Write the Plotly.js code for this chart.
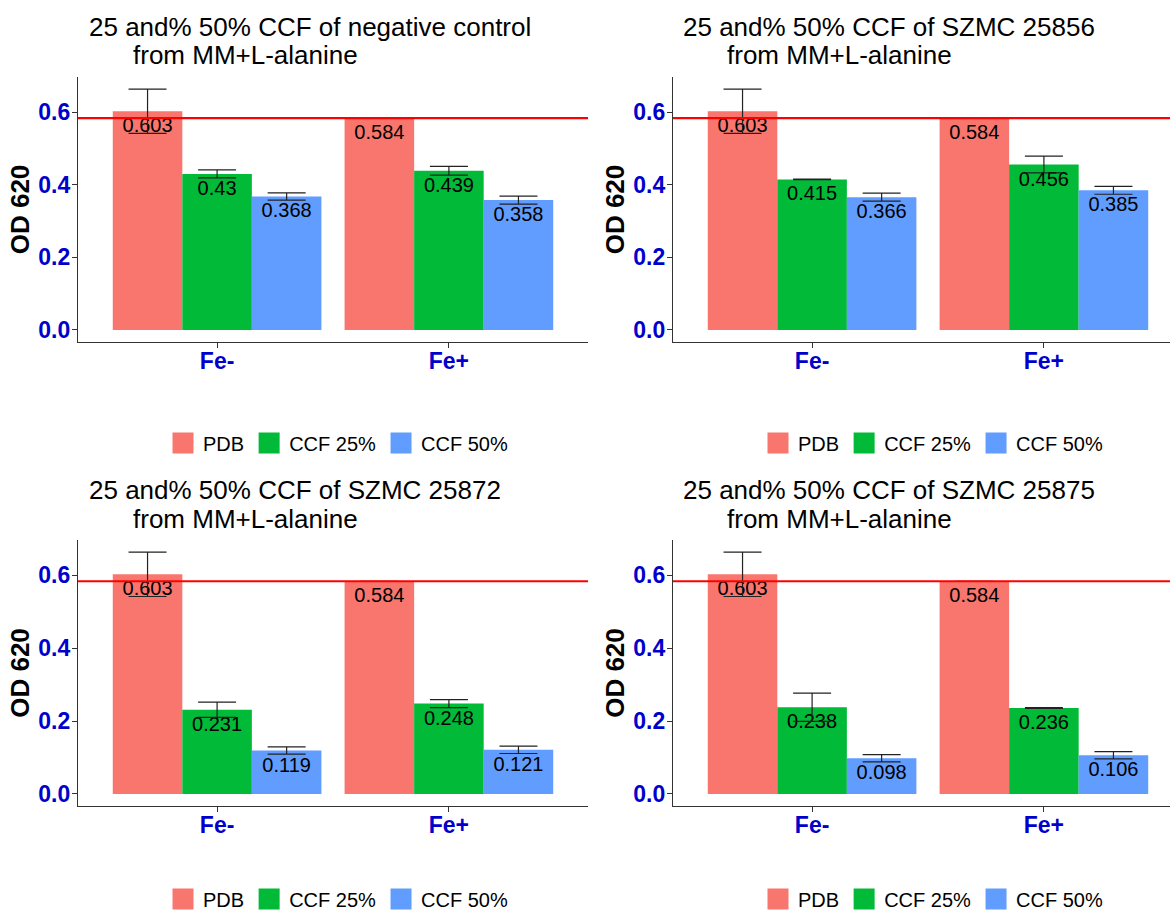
<!DOCTYPE html>
<html>
<head>
<meta charset="utf-8">
<script src="https://cdn.plot.ly/plotly-3.0.1.min.js"></script>
<style>
html,body{margin:0;padding:0;background:#ffffff;overflow:hidden;}
#frame{width:1170px;height:914px;overflow:hidden;position:relative;}
#chart{width:1170px;height:940px;}
</style>
</head>
<body>
<div id="frame"><div id="chart"></div></div>
<script>
// ---------------- data ----------------
const categories = ['Fe-', 'Fe+'];
const seriesNames = ['PDB', 'CCF 25%', 'CCF 50%'];
const panelTitles = [
  '25 and% 50% CCF of negative control',
  '25 and% 50% CCF of SZMC 25856',
  '25 and% 50% CCF of SZMC 25872',
  '25 and% 50% CCF of SZMC 25875'
];
const titleSubline = 'from MM+L-alanine';

const pdbValues = [0.603, 0.584];
const pdbErrors = [0.061, 0];

// CCF 25% per panel (negative control, 25856, 25872, 25875)
const ccf25Values = [[0.43, 0.439], [0.415, 0.456], [0.231, 0.248], [0.238, 0.236]];
const ccf25Errors = [[0.011, 0.012], [0.001, 0.023], [0.021, 0.011], [0.039, 0.001]];
// CCF 50% per panel
const ccf50Values = [[0.368, 0.358], [0.366, 0.385], [0.119, 0.121], [0.098, 0.106]];
const ccf50Errors = [[0.010, 0.011], [0.011, 0.011], [0.010, 0.010], [0.010, 0.010]];

const referenceLine = 0.584;
const yTickValues = [0, 0.2, 0.4, 0.6];
const yAxisTitle = 'OD 620';

// ---------------- style ----------------
const W = 1170, H = 914;          // visible paper area
const EXTRA_B = 26;               // bottom margin lying outside the visible window
const FONT = 'Liberation Sans, Arial, Helvetica, sans-serif';
const colors = ['#F8766D', '#00BA38', '#619CFF'];
const tickBlue = '#0000CD';
const axisGrey = '#333333';

// panel geometry in pixels
const panels = [
  {xl: 78,  xr: 588,  yt: 77,  yb: 342, xRangeMax: 1.6,   t1x: 87,  t2x: 131, t1y: 26.5, t2y: 55,   lgx: 338, lgy: 443},
  {xl: 673, xr: 1170, yt: 77,  yb: 342, xRangeMax: 1.544, t1x: 681, t2x: 725, t1y: 26.5, t2y: 55,   lgx: 933, lgy: 443},
  {xl: 78,  xr: 588,  yt: 540, yb: 806, xRangeMax: 1.6,   t1x: 87,  t2x: 131, t1y: 490,  t2y: 518.5, lgx: 338, lgy: 899},
  {xl: 673, xr: 1170, yt: 540, yb: 806, xRangeMax: 1.544, t1x: 681, t2x: 725, t1y: 490,  t2y: 518.5, lgx: 933, lgy: 899}
];

const traces = [];
const layout = {
  width: W, height: H + EXTRA_B,
  margin: {l: 0, r: 0, t: 0, b: EXTRA_B, pad: 0},
  paper_bgcolor: '#ffffff',
  plot_bgcolor: '#ffffff',
  font: {family: FONT, color: '#000000'},
  barmode: 'group',
  bargap: 0.1,
  bargroupgap: 0,
  showlegend: true,
  shapes: [],
  annotations: []
};

panels.forEach((p, i) => {
  const n = i === 0 ? '' : String(i + 1);
  const xa = 'x' + n, ya = 'y' + n;
  const legendId = 'legend' + n;

  const seriesVals = [pdbValues, ccf25Values[i], ccf50Values[i]];
  const seriesErrs = [pdbErrors, ccf25Errors[i], ccf50Errors[i]];

  seriesNames.forEach((name, s) => {
    traces.push({
      type: 'bar',
      name: name,
      x: categories,
      y: seriesVals[s],
      xaxis: xa, yaxis: ya,
      marker: {color: colors[s], line: {width: 0}},
      text: seriesVals[s].map(v => String(v)),
      textposition: 'inside',
      insidetextanchor: 'end',
      textangle: 0,
      textfont: {family: FONT, size: 20, color: '#000000'},
      error_y: {type: 'data', array: seriesErrs[s], visible: true, color: '#222222', thickness: 1.2, width: 19},
      showlegend: false,
      hoverinfo: 'x+y+name'
    });
  });
  // legend entries
  seriesNames.forEach((name, s) => {
    traces.push({
      type: 'scatter',
      mode: 'markers',
      name: name,
      x: [null], y: [null],
      xaxis: xa, yaxis: ya,
      legend: legendId,
      marker: {symbol: 'square', size: 16, color: colors[s], line: {color: colors[s], width: 5}},
      showlegend: true,
      hoverinfo: 'skip'
    });
  });

  layout['xaxis' + n] = {
    type: 'category',
    categoryorder: 'array',
    categoryarray: categories,
    range: [-0.6, p.xRangeMax],
    domain: [p.xl / W, p.xr / W],
    anchor: ya,
    showline: true, linecolor: axisGrey, linewidth: 1.2,
    ticks: 'outside', ticklen: 5, tickwidth: 1.2, tickcolor: axisGrey,
    ticklabelstandoff: -7,
    tickfont: {family: FONT, size: 23, color: tickBlue, weight: 700},
    showgrid: false, zeroline: false, fixedrange: true
  };
  layout['yaxis' + n] = {
    range: [-0.0332, 0.6972],
    domain: [1 - p.yb / H, 1 - p.yt / H],
    anchor: xa,
    tickvals: yTickValues,
    tickformat: '.1f',
    showline: true, linecolor: axisGrey, linewidth: 1.2,
    ticks: 'outside', ticklen: 5, tickwidth: 1.2, tickcolor: axisGrey,
    ticklabelstandoff: -3,
    tickfont: {family: FONT, size: 23, color: tickBlue, weight: 700},
    showgrid: false, zeroline: false, fixedrange: true,
    title: {text: yAxisTitle, font: {family: FONT, size: 26, color: '#000000', weight: 700}, standoff: 1}
  };
  layout[legendId] = {
    orientation: 'h',
    x: p.lgx / W, xanchor: 'center',
    y: 1 - p.lgy / H, yanchor: 'middle',
    bgcolor: 'rgba(0,0,0,0)',
    font: {family: FONT, size: 20, color: '#000000'},
    traceorder: 'normal',
    itemclick: false, itemdoubleclick: false
  };

  layout.shapes.push({
    type: 'line', layer: 'above',
    xref: xa + ' domain', x0: 0, x1: 1,
    yref: ya, y0: referenceLine, y1: referenceLine,
    line: {color: '#FF0000', width: 2.2}
  });

  layout.annotations.push({
    xref: 'paper', yref: 'paper',
    x: p.t1x / W, y: 1 - p.t1y / H,
    xanchor: 'left', yanchor: 'middle',
    text: panelTitles[i], showarrow: false,
    font: {family: FONT, size: 26, color: '#000000'}
  });
  layout.annotations.push({
    xref: 'paper', yref: 'paper',
    x: p.t2x / W, y: 1 - p.t2y / H,
    xanchor: 'left', yanchor: 'middle',
    text: titleSubline, showarrow: false,
    font: {family: FONT, size: 26, color: '#000000'}
  });
});

Plotly.newPlot('chart', traces, layout, {displayModeBar: false, responsive: false});
</script>
</body>
</html>
